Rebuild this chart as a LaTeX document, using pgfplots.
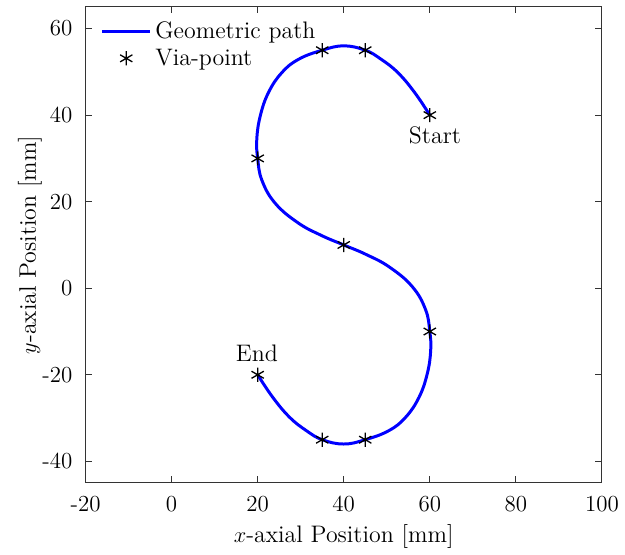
\documentclass[border=0pt]{standalone}
\usepackage{pgfplots}
\pgfplotsset{compat=1.18}
\pgfplotsset{
  mylineleg/.style={legend image code/.code={\draw[##1] (0cm,0cm) -- (0.9cm,0cm);}},
  mymarkleg/.style={legend image code/.code={\draw[##1] plot coordinates {(0.45cm,0cm)};}},
}
\begin{document}
\begin{tikzpicture}
\begin{axis}[
  width=276.6pt, height=255pt, scale only axis,
  xmin=-20, xmax=100, ymin=-45, ymax=65,
  xtick={-20,0,...,100}, ytick={-40,-20,...,60},
  xticklabels={{-20},0,20,40,60,80,100},
  yticklabels={{-40},{-20},0,20,40,60},
  tick align=inside, tick pos=both,
  axis line style={black!80, line width=0.5pt}, tick style={black!80, line width=0.5pt},
  major tick length=3.5pt,
  xlabel={$x$-axial Position [mm]},
  ylabel={$y$-axial Position [mm]},
  xlabel style={at={(axis description cs:0.5,-0.113)}, anchor=center},
  ylabel style={at={(axis description cs:-0.108,0.5)}, anchor=center},
  label style={font=\fontsize{12.8}{15.5}\selectfont},
  tick label style={font=\fontsize{12.3}{15}\selectfont},
  xticklabel style={yshift=-3.5pt},
  yticklabel style={xshift=-3.5pt},
  legend style={draw=none, fill=none, at={(axis description cs:0.0,1.0)}, anchor=north west,
    xshift=6pt, yshift=-3.7pt,
    font=\fontsize{12.8}{15.5}\selectfont, inner xsep=2pt, inner ysep=2pt},
  legend cell align=left,
  clip=false,
]
\addplot[blue, line width=1.6pt, smooth, tension=0.7, mylineleg] coordinates {
(60,40) (56.5,45.2) (52.6,49.8) (48.7,52.9) (45,55) (40,56) (35,55) (29.5,52.9) (25.6,49.8) (22.5,45.2) (20.6,39.8) (19.8,34.5) (20,30)
(21.0,24.9) (24.1,19.6) (29.4,15.1) (34.8,12.2) (40,10) (45.2,7.8) (50.6,4.9) (55.9,0.4) (59.0,-4.9) (60,-10)
(60.2,-14.5) (59.4,-19.8) (57.5,-25.2) (54.4,-29.8) (50.5,-32.9) (45,-35) (40,-36) (35,-35) (31.3,-32.9) (27.4,-29.8) (23.5,-25.2) (20,-20)
};
\addlegendentry{Geometric path}
\addplot[only marks, mark=asterisk, mark size=3.8pt, black, line width=0.7pt, mymarkleg] coordinates {
(60,40) (45,55) (35,55) (20,30) (40,10) (60,-10) (45,-35) (35,-35) (20,-20)
};
\addlegendentry{Via-point}
\node[font=\fontsize{12.8}{15.5}\selectfont] at (axis cs:61.2,35.3) {Start};
\node[font=\fontsize{12.8}{15.5}\selectfont] at (axis cs:19.8,-15) {End};
\path (rel axis cs:-0.1657,-0.144) (rel axis cs:1.0385,1.0146);
\end{axis}
\end{tikzpicture}
\end{document}
